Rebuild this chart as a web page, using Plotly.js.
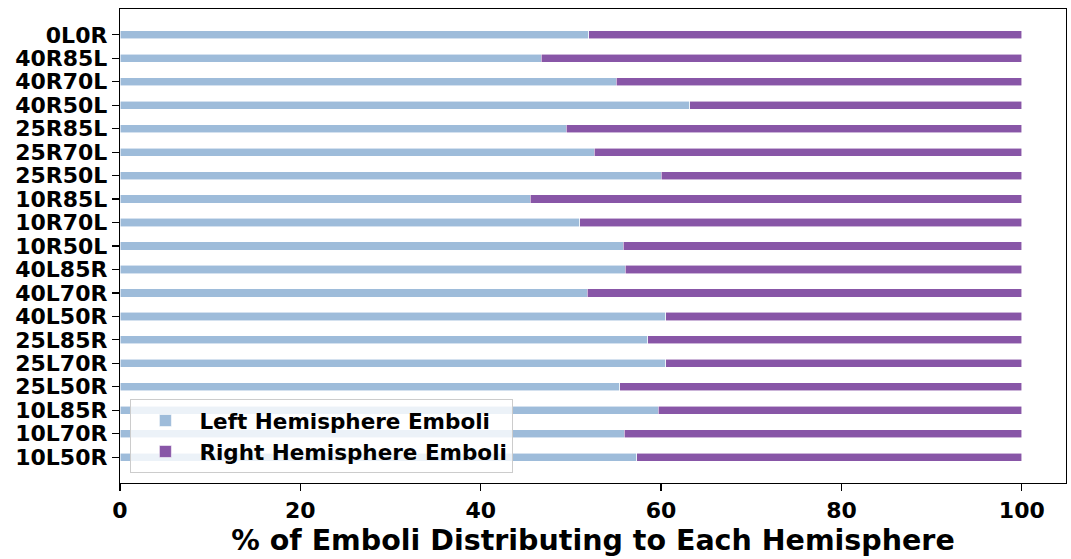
<!DOCTYPE html>
<html>
<head>
<meta charset="utf-8">
<script src="https://cdn.plot.ly/plotly-3.0.1.min.js"></script>
<style>html,body{margin:0;padding:0;background:#fff;}#chart{width:1071px;height:559px;}</style>
</head>
<body>
<div id="chart"></div>
<script>
const categories = ["10L50R","10L70R","10L85R","25L50R","25L70R","25L85R","40L50R","40L70R","40L85R",
  "10R50L","10R70L","10R85L","25R50L","25R70L","25R85L","40R50L","40R70L","40R85L","0L0R"];
const leftPct = [57.3,55.9,59.7,55.4,60.5,58.5,60.5,51.8,56.0,
  55.8,51.0,45.5,60.0,52.6,49.5,63.2,55.0,46.7,52.0];
const rightPct = leftPct.map(v => +(100 - v).toFixed(1));
const xTicks = [0, 20, 40, 60, 80, 100];

const font = "DejaVu Sans, sans-serif";
const edge = {color: "rgba(255,255,255,0.7)", width: 0.8};
const traces = [
  {type: "bar", orientation: "h", name: "Left Hemisphere Emboli", y: categories, x: leftPct,
   width: 0.35, marker: {color: "#9ebcda", line: edge}},
  {type: "bar", orientation: "h", name: "Right Hemisphere Emboli", y: categories, x: rightPct,
   width: 0.35, marker: {color: "#8856a7", line: edge}}
];
const layout = {
  width: 1071, height: 559,
  margin: {l: 120, r: 5, t: 9, b: 76},
  barmode: "stack",
  paper_bgcolor: "#fff", plot_bgcolor: "#fff",
  font: {family: font, color: "#000"},
  xaxis: {
    range: [0, 104.9], tickmode: "array", tickvals: xTicks, ticks: "outside", ticklen: 7, tickwidth: 1.2,
    tickcolor: "#000", showgrid: false, zeroline: false, showline: true, linecolor: "#000", linewidth: 1.2,
    mirror: true, tickfont: {size: 22, family: font, weight: "bold"},
    title: {text: "% of Emboli Distributing to Each Hemisphere", font: {size: 28.5, family: font, weight: "bold"}, standoff: 8}
  },
  yaxis: {
    type: "category", categoryorder: "array", categoryarray: categories, range: [-1.1, 19.1],
    tickmode: "linear", tick0: 0, dtick: 1,
    ticks: "outside", ticklen: 7, tickwidth: 1.2, tickcolor: "#000", showgrid: false, zeroline: false,
    showline: true, linecolor: "#000", linewidth: 1.2, mirror: true,
    tickfont: {size: 22, family: font, weight: "bold"}
  },
  legend: {
    x: 0.011, y: 0.021, xanchor: "left", yanchor: "bottom", traceorder: "normal",
    bgcolor: "rgba(255,255,255,0.8)", bordercolor: "#cccccc", borderwidth: 1,
    font: {size: 21.5, family: font, weight: "bold"}, itemwidth: 58, tracegroupgap: 4
  },
  showlegend: true
};
Plotly.newPlot("chart", traces, layout, {displayModeBar: false, staticPlot: true});
</script>
</body>
</html>
